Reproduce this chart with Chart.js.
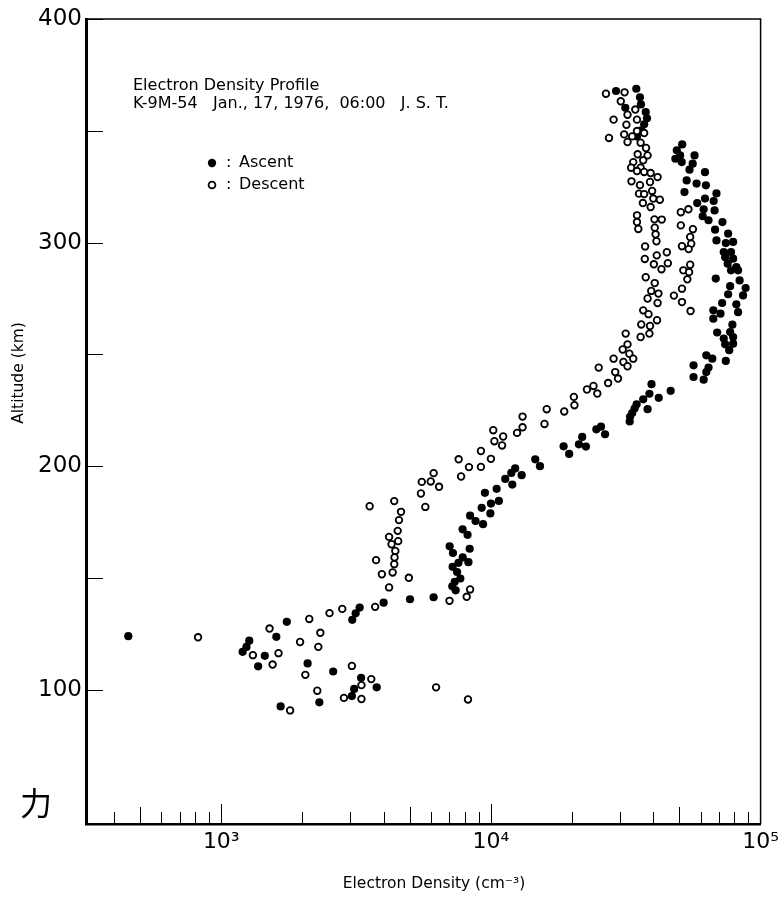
<!DOCTYPE html>
<html>
<head>
<meta charset="utf-8">
<script src="https://cdn.jsdelivr.net/npm/chart.js@4/dist/chart.umd.min.js"></script>
<style>
  html, body { margin: 0; padding: 0; background: #fff; }
  #wrap { width: 784px; height: 897px; }
</style>
</head>
<body>
<div id="wrap"><canvas id="chart" width="784" height="897"></canvas></div>
<script>
"use strict";

// values: electron density (cm^-3) vs altitude (km)
var ascentDensity = [
    2.91e4, 3.46e4, 3.57e4, 3.60e4, 3.15e4, 3.75e4, 3.79e4, 3.70e4, 3.61e4, 3.48e4,
    5.12e4, 4.89e4, 5.03e4, 4.83e4, 5.10e4, 5.69e4, 5.60e4, 5.45e4, 6.22e4, 5.32e4,
    5.79e4, 6.27e4, 5.22e4, 6.86e4, 6.22e4, 6.70e4, 5.82e4, 6.15e4, 6.75e4, 6.10e4,
    6.41e4, 7.22e4, 6.78e4, 7.58e4, 6.86e4, 7.43e4, 7.91e4, 7.30e4, 7.77e4, 7.39e4,
    7.91e4, 7.55e4, 8.13e4, 8.25e4, 7.77e4, 6.82e4, 8.36e4, 7.71e4, 8.80e4, 7.58e4,
    8.61e4, 8.13e4, 7.20e4, 6.68e4, 8.25e4, 7.10e4, 6.68e4, 7.86e4, 6.90e4, 7.71e4,
    7.30e4, 7.91e4, 7.39e4, 7.65e4, 7.91e4, 6.29e4, 6.62e4, 7.43e4, 5.64e4, 6.41e4,
    6.29e4, 5.64e4, 6.15e4, 3.94e4, 4.64e4, 3.87e4, 3.67e4, 4.19e4, 3.47e4, 3.41e4,
    3.81e4, 3.34e4, 3.28e4, 3.27e4, 2.56e4, 2.46e4, 2.65e4, 2.18e4, 2.12e4, 2.25e4,
    1.86e4, 1.95e4, 1.46e4, 1.52e4, 1.23e4, 1.19e4, 1.30e4, 1.13e4, 1.20e4, 1.05e4,
    9.50e3, 1.07e4, 1.00e4, 9.24e3, 9.95e3, 8.37e3, 8.77e3, 9.35e3, 7.85e3, 8.19e3,
    7.03e3, 8.34e3, 7.23e3, 7.86e3, 8.25e3, 7.58e3, 7.21e3, 7.49e3, 7.70e3, 7.34e3,
    7.19e3, 7.40e3, 6.13e3, 5.01e3, 4.00e3, 3.26e3, 3.15e3, 3.06e3, 1.75e3, 1.60e3,
    1.27e3, 1.24e3, 1.20e3, 1.45e3, 1.37e3, 2.09e3, 2.60e3, 3.30e3, 3.11e3, 3.77e3,
    3.05e3, 2.31e3, 1.66e3, 452
];
var ascentAltitude = [
    367.8, 368.8, 365.0, 361.8, 360.3, 358.4, 355.6, 352.9, 350.2, 347.5,
    343.9, 341.3, 339.0, 337.5, 336.0, 339.0, 335.3, 332.6, 331.5, 327.8,
    326.4, 325.6, 322.6, 322.0, 319.7, 318.6, 317.7, 314.9, 314.4, 311.8,
    310.0, 309.2, 305.8, 304.0, 301.0, 299.8, 300.3, 295.8, 295.8, 293.5,
    292.8, 290.6, 289.1, 287.6, 287.6, 283.9, 283.1, 280.5, 279.7, 276.9,
    276.4, 272.4, 273.0, 269.7, 268.9, 268.2, 266.0, 263.3, 259.8, 260.0,
    257.1, 254.8, 254.5, 251.9, 257.8, 249.6, 248.1, 247.1, 245.1, 244.1,
    242.1, 239.9, 238.7, 236.7, 233.7, 232.4, 229.9, 230.6, 227.7, 225.8,
    225.5, 223.8, 222.1, 220.0, 217.7, 216.5, 214.3, 213.1, 209.8, 208.8,
    208.9, 205.5, 203.1, 200.0, 199.0, 197.0, 196.0, 194.3, 191.8, 189.9,
    188.1, 184.5, 183.3, 181.4, 178.9, 177.9, 175.5, 174.1, 171.8, 169.3,
    164.2, 163.1, 161.2, 159.2, 157.1, 156.8, 155.0, 152.7, 149.8, 148.3,
    146.3, 144.5, 141.4, 140.5, 139.0, 136.8, 134.2, 131.3, 130.4, 123.7,
    122.0, 119.2, 117.0, 115.2, 110.5, 111.8, 108.2, 105.4, 100.4, 101.1,
    97.2, 94.4, 92.6, 124.0
];

var descentDensity = [
    2.67e4, 3.13e4, 3.03e4, 3.21e4, 2.85e4, 3.43e4, 3.18e4, 3.48e4, 3.12e4, 2.74e4,
    3.48e4, 3.70e4, 3.34e4, 3.21e4, 3.59e4, 3.76e4, 3.50e4, 3.81e4, 3.37e4, 3.67e4,
    3.31e4, 3.59e4, 3.48e4, 3.70e4, 3.91e4, 4.15e4, 3.32e4, 3.57e4, 3.89e4, 3.96e4,
    3.54e4, 3.70e4, 4.00e4, 4.23e4, 3.66e4, 3.91e4, 3.48e4, 3.48e4, 3.52e4, 4.04e4,
    4.30e4, 4.05e4, 4.08e4, 4.11e4, 3.73e4, 4.49e4, 4.12e4, 3.72e4, 4.53e4, 4.02e4,
    4.29e4, 3.75e4, 4.05e4, 3.93e4, 4.18e4, 3.81e4, 4.77e4, 4.15e4, 3.67e4, 3.84e4,
    4.13e4, 3.61e4, 3.89e4, 3.87e4, 3.16e4, 3.59e4, 3.21e4, 3.08e4, 3.26e4, 3.37e4,
    2.85e4, 3.10e4, 3.21e4, 2.51e4, 2.89e4, 2.96e4, 2.72e4, 2.40e4, 2.27e4, 2.48e4,
    2.03e4, 2.04e4, 1.87e4, 1.61e4, 1.58e4, 1.31e4, 1.31e4, 1.25e4, 1.02e4, 1.11e4,
    1.03e4, 1.10e4, 9.18e3, 1.00e4, 7.59e3, 8.29e3, 9.18e3, 7.75e3, 6.13e3, 5.54e3,
    5.98e3, 6.42e3, 5.50e3, 5.71e3, 4.64e3, 4.56e3, 3.55e3, 4.38e3, 4.51e3, 4.19e3,
    4.53e3, 4.28e3, 4.42e3, 4.39e3, 4.38e3, 3.75e3, 4.32e3, 3.94e3, 4.96e3, 4.19e3,
    8.37e3, 8.13e3, 7.02e3, 3.72e3, 2.81e3, 2.52e3, 2.12e3, 1.51e3, 2.33e3, 820,
    1.96e3, 2.29e3, 1.31e3, 1.63e3, 1.55e3, 2.05e3, 3.05e3, 3.60e3, 3.31e3, 2.27e3,
    6.26e3, 2.85e3, 3.31e3, 8.22e3, 1.80e3, 5.06e4, 5.40e4, 5.06e4, 5.61e4, 5.48e4,
    5.53e4, 5.11e4, 5.41e4, 5.48e4, 5.17e4, 5.43e4, 5.35e4, 5.11e4, 5.11e4, 5.50e4
];
var descentAltitude = [
    366.6, 367.2, 363.2, 357.2, 355.0, 359.5, 352.7, 355.0, 348.4, 346.8,
    349.9, 349.0, 347.5, 345.0, 344.7, 342.3, 339.5, 339.0, 336.0, 336.8,
    333.5, 333.5, 332.0, 331.6, 331.1, 329.3, 327.4, 325.7, 327.1, 323.1,
    321.9, 321.7, 319.7, 319.2, 317.7, 315.9, 312.2, 309.2, 306.1, 310.4,
    310.3, 306.7, 303.7, 300.6, 298.3, 295.7, 294.3, 292.7, 290.8, 290.3,
    288.1, 284.5, 281.9, 278.4, 277.2, 275.0, 276.3, 273.0, 269.7, 268.0,
    265.3, 263.4, 262.7, 259.3, 259.3, 257.8, 254.5, 252.2, 250.3, 248.1,
    248.1, 246.6, 244.7, 244.1, 242.1, 239.2, 237.2, 235.9, 234.3, 232.5,
    231.0, 227.3, 224.5, 225.5, 218.9, 222.2, 217.4, 214.9, 216.1, 213.3,
    211.2, 209.3, 206.8, 203.3, 203.1, 199.6, 199.7, 195.4, 196.9, 193.0,
    193.2, 190.8, 187.8, 181.8, 179.6, 175.9, 182.1, 184.4, 171.1, 168.4,
    166.5, 165.1, 162.1, 159.2, 156.2, 158.0, 152.5, 151.7, 150.1, 145.8,
    144.9, 141.6, 139.8, 137.1, 136.2, 134.3, 131.7, 127.4, 125.5, 123.5,
    121.4, 119.2, 115.5, 116.4, 111.3, 106.7, 110.7, 104.8, 102.1, 99.6,
    101.1, 96.4, 95.9, 95.7, 90.8, 313.6, 314.9, 307.7, 306.0, 302.5,
    299.5, 298.4, 297.1, 290.1, 287.6, 286.8, 283.6, 279.4, 273.4, 269.4
];

// axis ticks
var xLabelTicks = [1e3, 1e4, 1e5];
var xLabelText = ['10\u00b3', '10\u2074', '10\u2075'];
var xMinorTicks = [400, 500, 600, 700, 800, 900, 1000, 2000, 3000, 4000, 5000, 6000, 7000, 8000, 9000,
    10000, 20000, 30000, 40000, 50000, 60000, 70000, 80000, 90000];
var yLabelTicks = [100, 200, 300, 400];
var yMinorTicks = [100, 150, 200, 250, 300, 350, 400];

var titleLines = ['Electron Density Profile', 'K-9M-54   Jan., 17, 1976,  06:00   J. S. T.'];
var xTitle = 'Electron Density (cm\u207b\u00b3)';
var yTitle = 'Altitude (km)';

var FONT = '"DejaVu Sans", sans-serif';

function toPoints(xs, ys) {
    let pts = [];
    for (let i = 0; i < xs.length; i++) {
        pts.push({x: xs[i], y: ys[i]});
    }
    return pts;
}

// inner tick marks, frame, axis titles, caption and key
var decorPlugin = {
    id: 'decor',
    afterDraw(chart) {
        let ctx = chart.ctx;
        let xs = chart.scales.x;
        let ys = chart.scales.y;
        let area = chart.chartArea;

        ctx.save();
        ctx.strokeStyle = '#000';
        ctx.fillStyle = '#000';

        // top and right frame
        ctx.lineWidth = 1.5;
        ctx.beginPath();
        ctx.moveTo(area.left, area.top);
        ctx.lineTo(area.right, area.top);
        ctx.lineTo(area.right, area.bottom);
        ctx.stroke();

        ctx.lineWidth = 1;
        ctx.beginPath();
        xMinorTicks.forEach(v => {
            let px = Math.round(xs.getPixelForValue(v)) + 0.5;
            let m = v / Math.pow(10, Math.floor(Math.log10(v) + 1e-9));
            let len = Math.abs(m - 1) < 1e-6 ? 20 : (Math.abs(m - 5) < 1e-6 ? 17 : 12);
            ctx.moveTo(px, area.bottom);
            ctx.lineTo(px, area.bottom - len);
        });
        yMinorTicks.forEach(v => {
            let py = Math.round(ys.getPixelForValue(v)) + 0.5;
            ctx.moveTo(area.left, py);
            ctx.lineTo(area.left + 17, py);
        });
        ctx.stroke();

        // axis titles
        ctx.font = '15.5px ' + FONT;
        ctx.textBaseline = 'middle';
        ctx.textAlign = 'center';
        ctx.fillText(xTitle, 434, 884);
        ctx.save();
        ctx.translate(19, 373);
        ctx.rotate(-Math.PI / 2);
        ctx.fillText(yTitle, 0, 0);
        ctx.restore();

        // caption
        ctx.font = '16px ' + FONT;
        ctx.textAlign = 'left';
        ctx.fillText(titleLines[0], 133, 86);
        ctx.fillText(titleLines[1], 133, 104);

        // key
        ctx.beginPath();
        ctx.arc(212, 163, 4.2, 0, Math.PI * 2);
        ctx.fill();
        ctx.lineWidth = 1.8;
        ctx.beginPath();
        ctx.arc(212, 185, 3.4, 0, Math.PI * 2);
        ctx.stroke();
        ctx.fillText(':', 226, 163);
        ctx.fillText(':', 226, 185);
        ctx.fillText('Ascent', 239, 163);
        ctx.fillText('Descent', 239, 185);

        // hand-written mark in the lower left corner
        ctx.font = '32px "Noto Sans CJK JP", sans-serif';
        ctx.textAlign = 'center';
        ctx.fillText('\u529b', 36, 803);
        ctx.restore();
    }
};

var config = {
    type: 'scatter',
    data: {
        datasets: [
            {
                label: 'Descent',
                data: toPoints(descentDensity, descentAltitude),
                pointStyle: 'circle',
                pointRadius: 3.3,
                pointBorderWidth: 1.8,
                pointBorderColor: '#000',
                pointBackgroundColor: '#fff'
            },
            {
                label: 'Ascent',
                data: toPoints(ascentDensity, ascentAltitude),
                pointStyle: 'circle',
                pointRadius: 4.1,
                pointBorderWidth: 0,
                pointBorderColor: '#000',
                pointBackgroundColor: '#000'
            }
        ]
    },
    options: {
        responsive: false,
        animation: false,
        devicePixelRatio: 1,
        layout: {padding: {left: 0, right: 20, top: 19, bottom: 0}},
        plugins: {
            legend: {display: false},
            tooltip: {enabled: false}
        },
        scales: {
            x: {
                type: 'logarithmic',
                min: 315,
                max: 100000,
                afterBuildTicks(scale) {
                    scale.ticks = xLabelTicks.map(v => ({value: v}));
                },
                afterFit(scale) {
                    scale.height = 73;
                },
                grid: {display: false, drawTicks: false},
                border: {display: true, color: '#000', width: 2.5},
                ticks: {
                    color: '#000',
                    padding: 5,
                    maxRotation: 0,
                    autoSkip: false,
                    font: {family: FONT, size: 22},
                    callback: (v) => {
                        let i = xLabelTicks.indexOf(v);
                        return i >= 0 ? xLabelText[i] : '';
                    }
                },
                title: {display: false}
            },
            y: {
                type: 'linear',
                min: 40,
                max: 400,
                afterBuildTicks(scale) {
                    scale.ticks = yLabelTicks.map(v => ({value: v}));
                },
                afterFit(scale) {
                    scale.width = 86;
                },
                grid: {display: false, drawTicks: false},
                border: {display: true, color: '#000', width: 3},
                ticks: {
                    color: '#000',
                    padding: 4,
                    autoSkip: false,
                    font: {family: FONT, size: 23},
                    callback: (v) => String(v)
                },
                title: {display: false}
            }
        }
    },
    plugins: [decorPlugin]
};

var chart = new Chart(document.getElementById('chart').getContext('2d'), config);
</script>
</body>
</html>
